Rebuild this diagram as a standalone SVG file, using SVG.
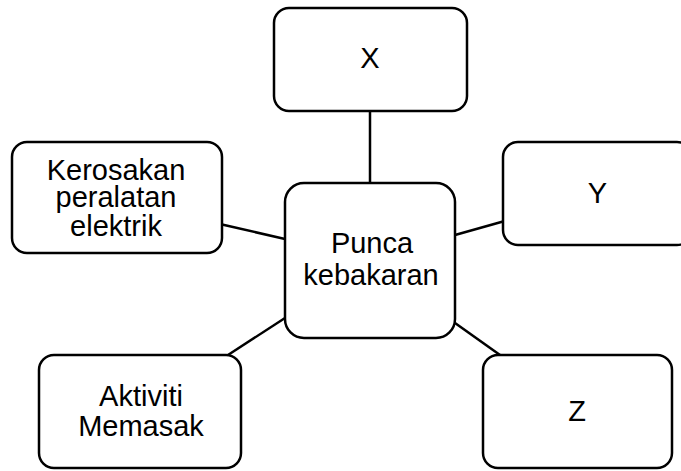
<svg xmlns="http://www.w3.org/2000/svg" width="681" height="471" viewBox="0 0 681 471">
<style>
.box{fill:#fff;stroke:#000;stroke-width:2.5}
.lbl{font-family:"Liberation Sans",Arial,sans-serif;font-size:29px;fill:#000;text-anchor:middle}
.conn line{stroke:#000;stroke-width:2.5}
</style>
<rect width="681" height="471" fill="#fff"/>
<g class="conn">
<line x1="370" y1="111" x2="370" y2="183"/>
<line x1="222" y1="224.5" x2="285" y2="239"/>
<line x1="455" y1="235" x2="503" y2="221.5"/>
<line x1="228" y1="355" x2="285" y2="318"/>
<line x1="455" y1="323" x2="500" y2="355"/>
</g>
<g id="center"><rect class="box" x="285" y="183" width="170" height="155" rx="19"/>
<text class="lbl" x="372" y="253">Punca</text><text class="lbl" x="371" y="285">kebakaran</text></g>
<g id="X"><rect class="box" x="274" y="8" width="193" height="103" rx="15"/>
<text class="lbl" x="370" y="68">X</text></g>
<g id="kerosakan"><rect class="box" x="12" y="142" width="210" height="111" rx="15"/>
<text class="lbl" x="116" y="180">Kerosakan</text><text class="lbl" x="116" y="207">peralatan</text><text class="lbl" x="116" y="236">elektrik</text></g>
<g id="Y"><rect class="box" x="503" y="142" width="189" height="103" rx="15"/>
<text class="lbl" x="597.5" y="203">Y</text></g>
<g id="aktiviti"><rect class="box" x="39" y="355" width="202" height="113" rx="15"/>
<text class="lbl" x="141" y="406">Aktiviti</text><text class="lbl" x="141" y="436">Memasak</text></g>
<g id="Z"><rect class="box" x="483" y="355" width="189" height="113" rx="15"/>
<text class="lbl" x="577" y="421">Z</text></g>
</svg>
